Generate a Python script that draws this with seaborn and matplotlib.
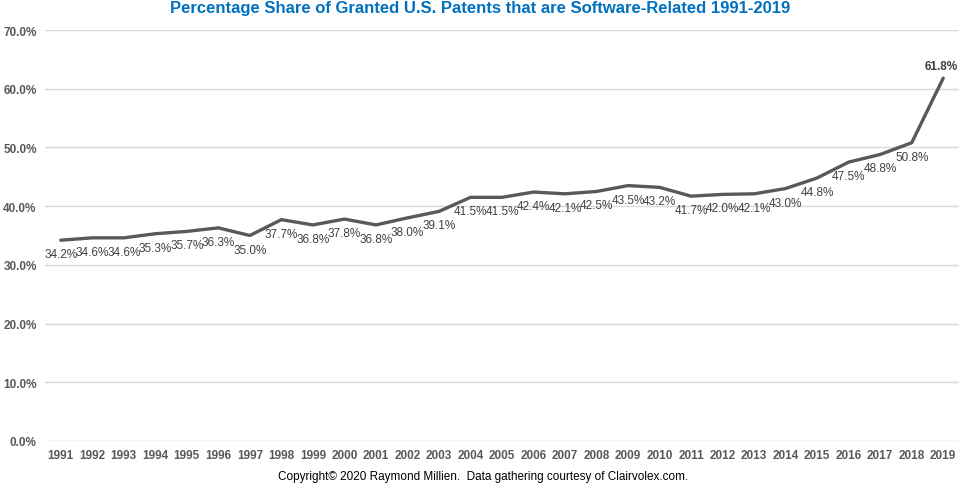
"""
Quota di brevetti USA concessi legati al software, 1991-2019.
"""

import matplotlib.pyplot as plt
import seaborn as sns
from matplotlib.ticker import FuncFormatter

years = list(range(1991, 2020))
share = [
    34.2, 34.6, 34.6, 35.3, 35.7, 36.3, 35.0, 37.7, 36.8, 37.8,
    36.8, 38.0, 39.1, 41.5, 41.5, 42.4, 42.1, 42.5, 43.5, 43.2,
    41.7, 42.0, 42.1, 43.0, 44.8, 47.5, 48.8, 50.8, 61.8,
]
y_ticks = [0, 10, 20, 30, 40, 50, 60, 70]

TITLE = "Percentage Share of Granted U.S. Patents that are Software-Related 1991-2019"
FOOTER = "Copyright\u00a9 2020 Raymond Millien.  Data gathering courtesy of Clairvolex.com."

sns.set_theme(style="white")
plt.rcParams["font.family"] = ["Liberation Sans", "DejaVu Sans"]

fig = plt.figure(figsize=(9.6, 4.85), dpi=100)
ax = fig.add_axes([45 / 960, 43 / 485, 914 / 960, 411 / 485])

sns.lineplot(x=years, y=share, ax=ax, color="#595959", linewidth=2.4)

ax.set_xlim(years[0] - 0.5, years[-1] + 0.5)
ax.set_ylim(0, 70)
ax.set_yticks(y_ticks)
ax.yaxis.set_major_formatter(FuncFormatter(lambda v, _: f"{v:.1f}%"))
ax.set_xticks(years)
ax.set_xticklabels([str(y) for y in years])
ax.grid(axis="y", color="#d9d9d9", linewidth=1)
ax.set_axisbelow(True)
for s in ax.spines.values():
    s.set_visible(False)
ax.tick_params(axis="both", length=0, labelsize=8.5, labelcolor="#595959")
ax.tick_params(axis="y", pad=6)
ax.tick_params(axis="x", pad=6)
for lbl in ax.get_xticklabels() + ax.get_yticklabels():
    lbl.set_fontweight("bold")

# Etichette dei valori sotto ogni punto, l'ultima in grassetto sopra
for i, (yr, v) in enumerate(zip(years, share)):
    last = i == len(years) - 1
    ax.annotate(
        f"{v:.1f}%",
        (yr, v),
        xytext=(-2 if last else 0, 6 if last else -14),
        textcoords="offset pixels",
        ha="center",
        va="bottom" if last else "center",
        fontsize=8.5,
        color="#404040",
        fontweight="bold" if last else "normal",
    )

fig.text(0.5, 1 - 9 / 485, TITLE, ha="center", va="center",
         fontsize=12, fontweight="bold", color="#0070C0")
fig.text(483 / 960, 1 - 477 / 485, FOOTER, ha="center", va="center",
         fontsize=8.5, color="black")

fig.savefig("out.png", dpi=100, facecolor="white")
